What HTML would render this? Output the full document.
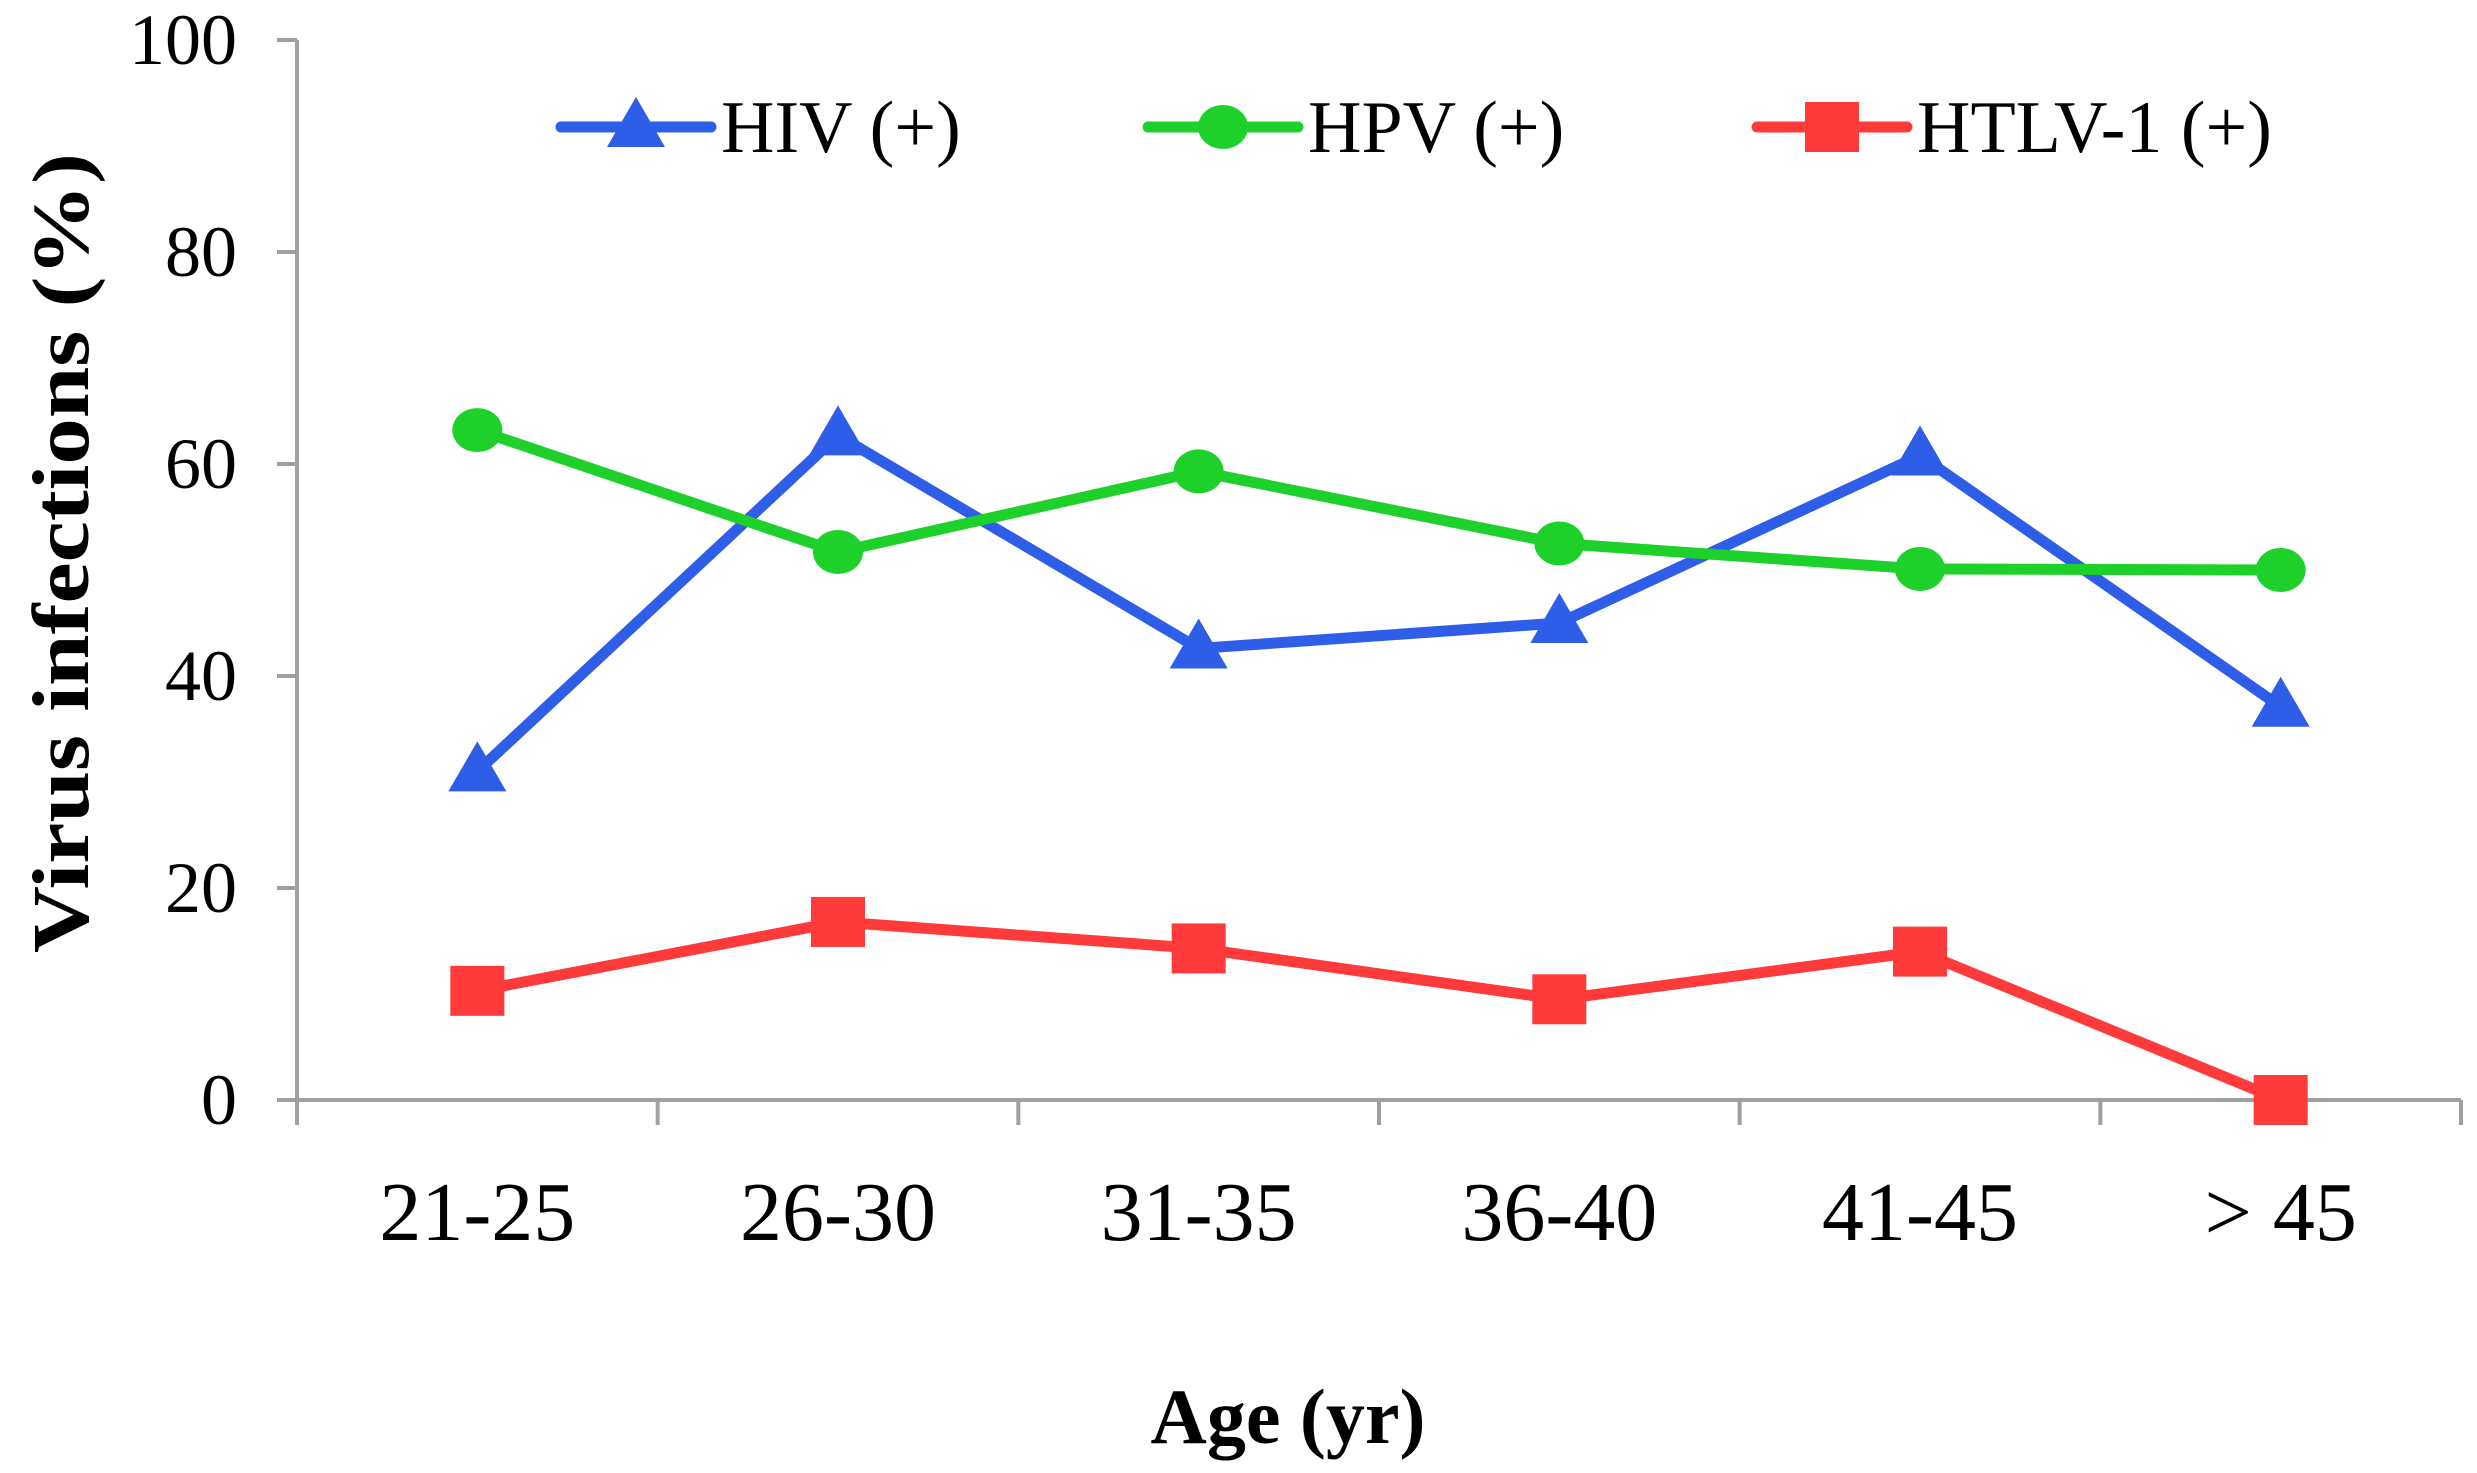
<!DOCTYPE html>
<html><head><meta charset="utf-8"><style>
html,body{margin:0;padding:0;background:#fff;}
svg{display:block;}
text{font-family:"Liberation Serif",serif;fill:#000;}
</style></head><body>
<svg id="chart" width="2477" height="1473" viewBox="0 0 2477 1473" xmlns="http://www.w3.org/2000/svg"></svg>
<script>
const categories = ["21-25","26-30","31-35","36-40","41-45","> 45"];
const hivValues = [31, 62.7, 42.6, 45, 60.8, 37.1];
const hpvValues = [63.2, 51.7, 59.3, 52.5, 50.1, 50];
const htlvValues = [10.3, 16.8, 14.3, 9.5, 14, 0];
const yTicks = [0, 20, 40, 60, 80, 100];

const NS = "http://www.w3.org/2000/svg";
const svg = document.getElementById('chart');
const X0 = 297, X1 = 2461, Y0 = 1100, Y1 = 40;
const bw = (X1 - X0) / categories.length;
function xs(i){ return X0 + bw * (i + 0.5); }
function ys(v){ return Y0 - (v / 100) * (Y0 - Y1); }
function mk(tag, attrs, parent){
  const e = document.createElementNS(NS, tag);
  for (const k in attrs) e.setAttribute(k, attrs[k]);
  (parent || svg).appendChild(e);
  return e;
}

const axes = mk('g', {});


let a = mk('line', {x1: X0, y1: Y1, x2: X0, y2: Y0 + 25, stroke: '#a0a0a0', 'stroke-width': 4}, axes);


a = mk('line', {x1: X0 - 20, y1: Y0, x2: X1, y2: Y0, stroke: '#a0a0a0', 'stroke-width': 4}, axes);



yTicks.forEach(function(t){
  const y = ys(t);
  const tk = mk('line', {x1: X0 - 20, y1: y, x2: X0, y2: y, stroke: '#a0a0a0', 'stroke-width': 4}, axes);
  
  
  const lb = mk('text', {x: 237, y: y + 24, 'text-anchor': 'end', 'font-size': 72}, axes);
  lb.textContent = t;
  
  
});
for (let i = 0; i <= categories.length; i++) {
  const x = X0 + bw * i;
  const tk = mk('line', {x1: x, y1: Y0, x2: x, y2: Y0 + 25, stroke: '#a0a0a0', 'stroke-width': 4}, axes);
  
  
}
categories.forEach(function(c, i){
  const lb = mk('text', {x: xs(i), y: 1240, 'text-anchor': 'middle', 'font-size': 84}, axes);
  lb.textContent = c;
  
  
});

let t = mk('text', {x: 1288, y: 1443, 'text-anchor': 'middle', 'font-size': 78, 'font-weight': 'bold'});
t.textContent = 'Age (yr)';


t = mk('text', {x: 0, y: 0, 'text-anchor': 'middle', 'font-size': 80, 'font-weight': 'bold', textLength: 800, lengthAdjust: 'spacingAndGlyphs', transform: 'translate(88,553) rotate(-90)'});
t.textContent = 'Virus infections (%)';



function marker(type, x, y, color, g){
  let m;
  if (type === 'tri') m = mk('polygon', {points: (x) + ',' + (y - 30) + ' ' + (x - 29) + ',' + (y + 20) + ' ' + (x + 29) + ',' + (y + 20), fill: color}, g);
  else if (type === 'circ') m = mk('ellipse', {cx: x, cy: y, rx: 25, ry: 22, fill: color}, g);
  else m = mk('rect', {x: x - 27, y: y - 25, width: 54, height: 50, fill: color}, g);
  return m;
}

const series = [
  {name: 'hiv', label: 'HIV (+)', vals: hivValues, color: '#2e5ee8', m: 'tri', lx: 561},
  {name: 'hpv', label: 'HPV (+)', vals: hpvValues, color: '#1ed12a', m: 'circ', lx: 1148},
  {name: 'htlv', label: 'HTLV-1 (+)', vals: htlvValues, color: '#ff3a3a', m: 'sq', lx: 1757}
];
series.forEach(function(s){
  const g = mk('g', {});
  
  
  const pts = s.vals.map(function(v, i){ return xs(i) + ',' + ys(v); }).join(' ');
  const pl = mk('polyline', {points: pts, fill: 'none', stroke: s.color, 'stroke-width': 11, 'stroke-linejoin': 'miter'}, g);
  
  
  s.vals.forEach(function(v, i){
    const m = marker(s.m, xs(i), ys(v), s.color, g);
    
    
  });
  const lg = mk('g', {});
  
  
  const ly = 127;
  mk('line', {x1: s.lx, y1: ly, x2: s.lx + 150, y2: ly, stroke: s.color, 'stroke-width': 11, 'stroke-linecap': 'round'}, lg);
  marker(s.m, s.lx + 75, ly, s.color, lg);
  const tx = mk('text', {x: s.lx + 160, y: ly + 25, 'font-size': 74}, lg);
  tx.textContent = s.label;
});
</script>
</body></html>
